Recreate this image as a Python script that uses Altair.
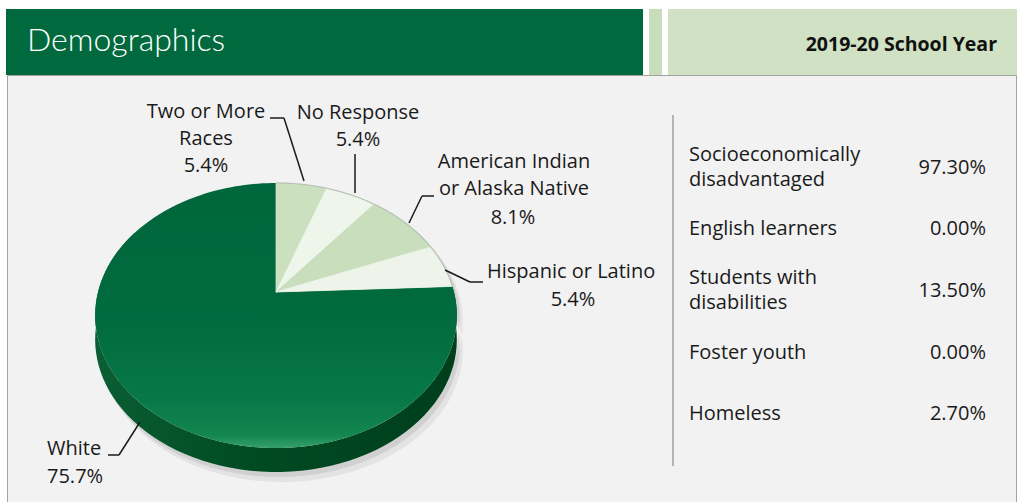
import altair as alt
import pandas as pd

# ---------------- data ----------------
title = "Demographics"
school_year = "2019-20 School Year"

race_labels = ["Two or More Races", "No Response", "American Indian or Alaska Native",
               "Hispanic or Latino", "White"]
race_values = [5.4, 5.4, 8.1, 5.4, 75.7]
race_colors = ["#cbe0bf", "#eef5ea", "#c8debd", "#eef4ea", "#006a3e"]

group_labels = ["Socioeconomically disadvantaged", "English learners",
                "Students with disabilities", "Foster youth", "Homeless"]
group_values = [97.30, 0.00, 13.50, 0.00, 2.70]

# ---------------- geometry / style ----------------
W, H = 1017, 502
FONT = "Open Sans"
TXT = "#1a1a1a"
LS = 20          # label font size
CX, CY = 276, 292          # pie apex on screen
F, FS, C, D = 703.0, 507.0, 0.701, 3.95   # simple perspective projection
DEPTH = 24
N = 160

races = pd.DataFrame({"label": race_labels, "value": race_values,
                      "color": race_colors, "order": list(range(len(race_labels)))})

xs = alt.Scale(domain=[0, W], nice=False, zero=False)
ys = alt.Scale(domain=[0, H], nice=False, zero=False, reverse=True)

proj_x = f"{CX} + {F}*sin(datum.a)/({D} + {C}*cos(datum.a))"
proj_y = f"{CY} - {FS}*cos(datum.a)/({D} + {C}*cos(datum.a))"

# top face slices
slices = (
    alt.Chart(races)
    .transform_window(cum="sum(value)", sort=[alt.SortField("order")])
    .transform_joinaggregate(total="sum(value)")
    .transform_calculate(a0="2*PI*(datum.cum - datum.value)/datum.total",
                         a1="2*PI*datum.cum/datum.total",
                         k=f"sequence(0, {N + 2})")
    .transform_flatten(["k"])
    .transform_calculate(a=f"datum.a0 + (datum.k - 1)/({N} - 1)*(datum.a1 - datum.a0)")
    .transform_calculate(
        sx=f"(datum.k == 0 || datum.k == {N + 1}) ? {CX} : " + proj_x,
        sy=f"(datum.k == 0 || datum.k == {N + 1}) ? {CY} : " + proj_y)
)
enc = dict(x=alt.X("sx:Q", scale=xs, axis=None),
           y=alt.Y("sy:Q", scale=ys, axis=None),
           order=alt.Order("k:Q"),
           detail="label:N")

light = slices.transform_filter("datum.label != 'White'").mark_line(
    filled=True, strokeWidth=0.8, interpolate="linear"
).encode(color=alt.Color("color:N", scale=None),
         stroke=alt.Stroke("color:N", scale=None), **enc)

# thin grey rim along the arc of the light slices
rim = slices.transform_filter(
    f"datum.label != 'White' && datum.k > 0 && datum.k < {N + 1}"
).mark_line(color="#b9c2b6", strokeWidth=1.2, interpolate="linear").encode(**enc)

white_grad = alt.Gradient(
    gradient="linear", x1=0, y1=0, x2=0, y2=1,
    stops=[alt.GradientStop(color="#00663b", offset=0),
           alt.GradientStop(color="#006b3e", offset=0.5),
           alt.GradientStop(color="#087848", offset=0.82),
           alt.GradientStop(color="#14864f", offset=0.95),
           alt.GradientStop(color="#35a06a", offset=1)])
white = slices.transform_filter("datum.label == 'White'").mark_line(
    filled=True, color=white_grad, interpolate="linear").encode(**enc)


# side band and shadow
def band(dx, dy0, dy1, color, opacity=1.0):
    M = 90
    return (
        alt.Chart(pd.DataFrame({"part": ["side"]}))
        .transform_calculate(k=f"sequence(0, {2 * M})")
        .transform_flatten(["k"])
        .transform_calculate(
            t=f"datum.k < {M} ? datum.k/({M}-1) : ({2 * M - 1} - datum.k)/({M}-1)",
            off=f"datum.k < {M} ? {dy0} : {dy1}")
        .transform_calculate(a="PI/3 + datum.t*4*PI/3")
        .transform_calculate(sx=f"{dx} + " + proj_x,
                             sy="datum.off + " + proj_y)
        .mark_line(filled=True, color=color, opacity=opacity, interpolate="linear")
        .encode(x=alt.X("sx:Q", scale=xs, axis=None),
                y=alt.Y("sy:Q", scale=ys, axis=None),
                order=alt.Order("k:Q"))
    )


side_grad = alt.Gradient(
    gradient="linear", x1=0, y1=0, x2=1, y2=0,
    stops=[alt.GradientStop(color="#0b5e33", offset=0),
           alt.GradientStop(color="#004a22", offset=0.45),
           alt.GradientStop(color="#003f1c", offset=1)])

shadow2 = band(6, 6, DEPTH + 10, "#c9c9c9", 0.35)
shadow1 = band(3, 3, DEPTH + 5, "#b5b5b5", 0.4)
side = band(0, 0, DEPTH, side_grad)

# ---------------- decorations ----------------
base = alt.Chart(pd.DataFrame({"d": [0]}))


def rect(x, y, x2, y2, fill, **kw):
    return base.mark_rect(fill=fill, **kw).encode(
        x=alt.value(x), x2=alt.value(x2), y=alt.value(y), y2=alt.value(y2))


def text(s, x, y, size=LS, align="center", color=TXT, font=FONT, **kw):
    return base.mark_text(text=s, align=align, baseline="middle", fontSize=size,
                          font=font, color=color, **kw).encode(
        x=alt.value(x), y=alt.value(y))


def seg(x1, y1, x2, y2, color=TXT, w=1.5):
    return base.mark_rule(color=color, strokeWidth=w).encode(
        x=alt.value(x1), y=alt.value(y1), x2=alt.value(x2), y2=alt.value(y2))


layers = [
    rect(7.5, 75.5, 1016.5, 520, "#f2f2f2", stroke="#a3a3a3", strokeWidth=1),
    rect(6, 9, 643, 75, "#006a3e"),
    rect(649, 9, 662, 75, "#c8ddbb"),
    rect(668, 9, W, 75, "#d0e1c4"),
    text(title, 27, 41, size=32, align="left", color="white", font="Lato", fontWeight=300),
    text(school_year, 997, 45, size=19.5, align="right", color="#111111", fontWeight="bold"),
    shadow2, shadow1, side, white, light, rim,
]

# pie labels
v = {l: val for l, val in zip(race_labels, race_values)}
layers += [
    text("Two or More", 206, 112), text("Races", 206, 139),
    text(f"{v['Two or More Races']}%", 206, 166),
    seg(270, 118, 284, 118), seg(284, 118, 304, 181),
    text("No Response", 358, 113), text(f"{v['No Response']}%", 358, 140),
    seg(355, 154, 355, 193),
    text("American Indian", 514, 162), text("or Alaska Native", 514, 189),
    text(f"{v['American Indian or Alaska Native']}%", 513, 218),
    seg(434, 196, 422, 196), seg(422, 196, 409, 223),
    text("Hispanic or Latino", 487, 272, align="left"),
    text(f"{v['Hispanic or Latino']}%", 573, 300),
    seg(483, 282, 470, 282), seg(470, 282, 445, 270),
    text("White", 47, 449, align="left"), text(f"{v['White']}%", 47, 477, align="left"),
    seg(108, 455, 119, 455), seg(119, 455, 140, 422),
]

# right-hand table
layers.append(seg(673, 115, 673, 466, color="#8c8c8c", w=1.2))
row_y = [168, 229, 291, 353, 414]
wraps = {"Socioeconomically disadvantaged": ["Socioeconomically", "disadvantaged"],
         "Students with disabilities": ["Students with", "disabilities"]}
for lab, val, y in zip(group_labels, group_values, row_y):
    lines = wraps.get(lab, [lab])
    if len(lines) == 2:
        layers.append(text(lines[0], 689, y - 13, align="left"))
        layers.append(text(lines[1], 689, y + 12, align="left"))
    else:
        layers.append(text(lab, 689, y, align="left"))
    layers.append(text(f"{val:.2f}%", 986, y, align="right"))

chart = alt.layer(*layers).properties(
    width=W, height=H, autosize=alt.AutoSizeParams(type="none"), padding=0,
    background="white"
).configure_view(stroke=None)

chart.save("out.html", embed_options={"renderer": "svg", "actions": False})
